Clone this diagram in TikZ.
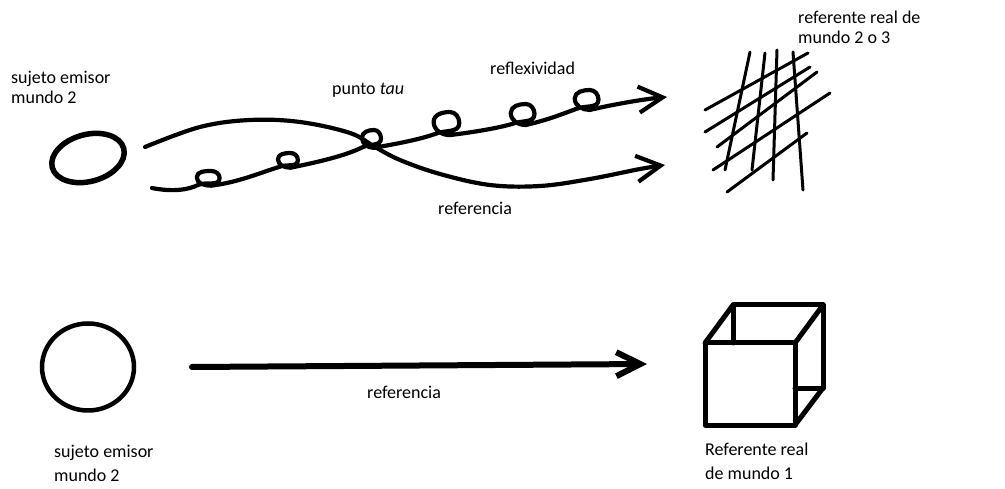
\documentclass[tikz,border=0pt]{standalone}
\usepackage{fontspec}
\setmainfont{Carlito}
\usetikzlibrary{arrows.meta,shapes.geometric}
\begin{document}
\begin{tikzpicture}[x=1pt,y=1pt,
  % multi-line labels are anchored at the baseline of their last line
  lbl/.style={anchor=base west,inner sep=0pt,align=left,font=\fontsize{18}{20}\selectfont},
  lblwide/.style={lbl,font=\fontsize{18}{24}\selectfont},
  ink/.style={line cap=round,line join=round},
  curve/.style={ink,line width=4.2},
  hatch/.style={ink,line width=3},
  boxline/.style={ink,line width=5},
  barb/.style={-{Straight Barb[length=24pt,width=26pt]}},
  % cursive loop drawn from the current point, width #1, height #2
  eloop/.style 2 args={insert path={
    to[out=25,in=-90] ++({0.9*#1},{0.5*#2})
    to[out=90,in=0] ++({-0.35*#1},{0.5*#2})
    to[out=180,in=90] ++({-0.6*#1},{-0.45*#2})
    to[out=-90,in=180] ++({0.6*#1},{-0.6*#2})}},
]
\fill[white] (0,0) rectangle (1005,-489);
\path[use as bounding box] (0,0) rectangle (1005,-489);

% ---------- upper scheme: world 2 subject, reference and reflexivity ----------
\node[lbl] (subjTop) at (11,-104) {sujeto emisor\\mundo 2};
\node[ellipse,draw,line width=5.5,minimum width=74,minimum height=47,rotate=15,inner sep=0] (ovalTop) at (88,-158) {};

\coordinate (refStart) at (145,-147);
\coordinate (refEnd) at (665,-165);
\coordinate (refxStart) at (152,-188);
\coordinate (refxEnd) at (667,-97);

% reference: arc over the top, crossing down to the right
\draw[curve,barb] plot[smooth,tension=0.6] coordinates {
  (refStart) (200,-127) (250,-120) (300,-122) (350,-133) (375,-147)
  (400,-160) (440,-174) (490,-185) (540,-186) (590,-179) (640,-169) (refEnd)};

% reflexivity: looping line rising through the tau point
\draw[curve,barb] (refxStart) .. controls (172,-192) and (188,-190) .. (198,-185)
  [eloop={24}{14}]
  .. controls (240,-182) and (262,-172) .. (279,-167)
  [eloop={21}{14}]
  .. controls (318,-162) and (345,-156) .. (363,-147)
  [eloop={20}{17}]
  .. controls (395,-144) and (418,-140) .. (435,-134)
  [eloop={27}{22}]
  .. controls (475,-132) and (498,-128) .. (512,-124)
  [eloop={25}{20}]
  .. controls (548,-120) and (565,-113) .. (576,-109)
  [eloop={25}{19}]
  .. controls (615,-104) and (645,-99) .. (refxEnd);

\node[lbl] (tau) at (332,-95) {punto \textit{tau}};
\node[lbl] (reflex) at (490,-75) {reflexividad};
\node[lbl] (refTop) at (438,-215) {referencia};

% hatched referent of world 2 or 3
\draw[hatch] (750,-52) -- (725,-170);
\draw[hatch] (765,-53) -- (752,-170);
\draw[hatch] (777,-50) -- (773,-180);
\draw[hatch] (793,-52) -- (803,-190);
\draw[hatch] (705,-110) -- (808,-53);
\draw[hatch] (705,-132) -- (810,-67);
\draw[hatch] (717,-147) -- (817,-72);
\draw[hatch] (713,-170) -- (830,-93);
\draw[hatch] (727,-192) -- (807,-133);
\node[lbl] (refW23) at (798,-44) {referente real de\\mundo 2 o 3};

% ---------- lower scheme: reference to a world 1 object ----------
\node[ellipse,draw,line width=4.5,minimum width=92,minimum height=87,inner sep=0] (ovalBot) at (88,-367) {};
\node[lblwide] (subjBot) at (54,-481) {sujeto emisor\\mundo 2};

\draw[ink,line width=6,-{Straight Barb[length=24pt,width=24pt]}] (192,-367) -- (647,-364);
\node[lbl] (refBot) at (367,-398) {referencia};

% wire-frame cube
\draw[boxline] (705,-343) rectangle (795,-425);
\draw[boxline] (733,-343) -- (733,-305) -- (823,-305) -- (823,-388) -- (795,-388);
\draw[boxline] (705,-343) -- (733,-305);
\draw[boxline] (795,-343) -- (823,-305);
\draw[boxline] (795,-425) -- (823,-388);
\node[lblwide] (refW1) at (705,-479) {Referente real\\de mundo 1};
\end{tikzpicture}
\end{document}
